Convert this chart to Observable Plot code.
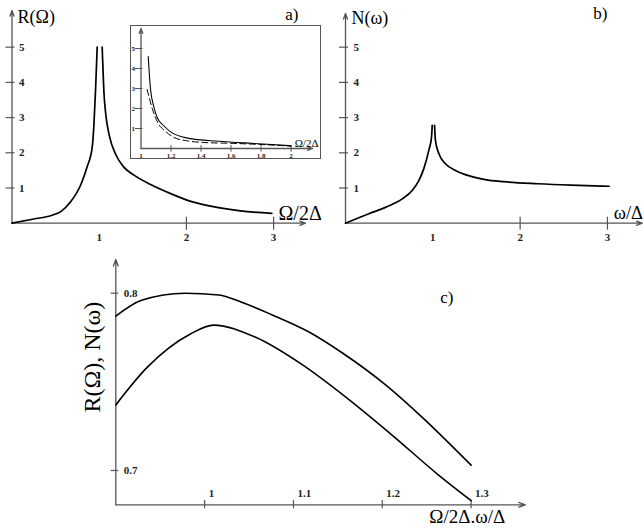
<!DOCTYPE html>
<html><head><meta charset="utf-8">
<script src="https://cdn.jsdelivr.net/npm/d3@7"></script>
<script src="https://cdn.jsdelivr.net/npm/@observablehq/plot@0.6"></script>
<style>
body{margin:0;background:#fff;}
#fig{position:relative;width:644px;height:531px;overflow:hidden;background:#fff;}
#fig svg{position:absolute;}
</style></head><body><div id="fig"></div>
<script>
// ---------- Panel a: R(Ω) ----------
const aLeftX  = [0, 0.25, 0.45, 0.56, 0.67, 0.79, 0.86, 0.92, 0.94, 0.958, 0.977];
const aLeftY  = [0, 0.12, 0.22, 0.33, 0.60, 1.10, 1.59, 2.16, 2.82, 3.77, 5.0];
const aRightX = [1.034, 1.053, 1.075, 1.115, 1.19, 1.28, 1.39, 1.59, 1.82, 2.05, 2.35, 2.62, 2.98];
const aRightY = [5.0, 3.77, 3.1, 2.5, 1.95, 1.6, 1.38, 1.1, 0.84, 0.62, 0.45, 0.35, 0.28];
const aXTicks = [1, 2, 3];
const aXTickMarks = [2, 3];
const aYTicks = [1, 2, 3, 4, 5];
const aXDomain = [0, 3.366];
const aYDomain = [0, 6.04];

// ---------- Inset of panel a ----------
const insetSolidX = [1.048, 1.063, 1.085, 1.108, 1.15, 1.2, 1.31, 1.52, 1.75, 2.0];
const insetSolidY = [4.6, 3.0, 2.1, 1.55, 1.15, 0.82, 0.52, 0.36, 0.25, 0.14];
const insetDashX  = [1.041, 1.075, 1.115, 1.16, 1.22, 1.31, 1.42, 1.6, 1.8, 2.0];
const insetDashY  = [2.95, 2.0, 1.25, 0.88, 0.55, 0.38, 0.3, 0.26, 0.2, 0.12];
const insetXTicks = [1, 1.2, 1.4, 1.6, 1.8, 2];
const insetXTickLabels = ["1", "1.2", "1.4", "1.6", "1.8", "2"];
const insetXTickMarks = [1.2, 1.4, 1.6, 1.8, 2];
const insetYTicks = [1, 2, 3, 4, 5];
const insetXDomain = [1, 2.143];
const insetYDomain = [0, 6.0];

// ---------- Panel b: N(ω) ----------
const bLeftX  = [0, 0.267, 0.458, 0.649, 0.764, 0.84, 0.897, 0.954, 0.985, 0.993];
const bLeftY  = [0, 0.27, 0.45, 0.69, 0.93, 1.21, 1.55, 2.07, 2.44, 2.78];
const bRightX = [1.02, 1.03, 1.07, 1.145, 1.26, 1.41, 1.6, 1.81, 2.2, 2.58, 3.02];
const bRightY = [2.78, 2.35, 1.97, 1.69, 1.5, 1.35, 1.24, 1.18, 1.12, 1.08, 1.05];
const bXTicks = [1, 2, 3];
const bXTickMarks = [2, 3];
const bYTicks = [1, 2, 3, 4, 5];
const bXDomain = [0, 3.398];
const bYDomain = [0, 5.957];

// ---------- Panel c ----------
const cUpperX = [0.9, 0.929, 0.978, 1.016, 1.041, 1.075, 1.118, 1.156, 1.202, 1.245, 1.3];
const cUpperY = [0.787, 0.796, 0.800, 0.799, 0.795, 0.788, 0.778, 0.766, 0.749, 0.730, 0.703];
const cLowerX = [0.9, 0.935, 0.984, 1.010, 1.058, 1.109, 1.160, 1.211, 1.262, 1.3];
const cLowerY = [0.737, 0.758, 0.777, 0.782, 0.775, 0.760, 0.741, 0.720, 0.698, 0.683];
const cXTicks = [1, 1.1, 1.2, 1.3];
const cXTickLabels = ["1", "1.1", "1.2", "1.3"];
const cYTicks = [0.7, 0.8];
const cYTickLabels = ["0.7", "0.8"];
const cXDomain = [0.9, 1.361];
const cYDomain = [0.68065, 0.819];

// ---------- helpers ----------
const rows = (xs, ys, k) => xs.map((x, i) => ({x, y: ys[i], k}));
const SERIF = "Liberation Serif, Times New Roman, serif";
const AX = "#555";
const baseStyle = {background: "transparent", overflow: "visible", fontFamily: SERIF, color: "#111"};

function axesArrows(xd, yd, head) {
  return [
    Plot.arrow([0], {x1: () => xd[0], y1: () => yd[0], x2: () => xd[1], y2: () => yd[0],
      stroke: AX, strokeWidth: 1.3, headLength: head, headAngle: 40}),
    Plot.arrow([0], {x1: () => xd[0], y1: () => yd[0], x2: () => xd[0], y2: () => yd[1],
      stroke: AX, strokeWidth: 1.3, headLength: head, headAngle: 40})
  ];
}

const fig = document.getElementById("fig");
function place(svg, left, top, extra) {
  svg.style.left = left + "px";
  svg.style.top = top + "px";
  if (extra) Object.assign(svg.style, extra);
  fig.appendChild(svg);
}

// ---------- Panel a ----------
const aPlot = Plot.plot({
  width: 330, height: 240,
  marginLeft: 11.5, marginRight: 25, marginTop: 10, marginBottom: 17.3,
  x: {domain: aXDomain}, y: {domain: aYDomain},
  style: baseStyle,
  marks: [
    ...axesArrows(aXDomain, aYDomain, 7),
    Plot.axisY({ticks: aYTicks, tickSize: 9, dx: 3, tickFormat: () => "", label: null, stroke: AX, strokeWidth: 1.2}),
    Plot.axisX({ticks: aXTickMarks, tickSize: 13, dy: -6, tickFormat: () => "", label: null, stroke: AX, strokeWidth: 1.2}),
    Plot.text(aYTicks, {y: d => d, frameAnchor: "left", dx: 7, textAnchor: "start", lineAnchor: "middle",
      fontSize: 11, fontWeight: "bold", fill: "#222"}),
    Plot.text(aXTicks, {x: d => d, frameAnchor: "bottom", dy: 14, lineAnchor: "middle",
      fontSize: 11, fontWeight: "bold", fill: "#222"}),
    Plot.line([...rows(aLeftX, aLeftY, "l"), ...rows(aRightX, aRightY, "r")],
      {x: "x", y: "y", z: "k", stroke: "#000", strokeWidth: 1.7, curve: "monotone-x"}),
    Plot.text(["R(Ω)"], {frameAnchor: "top-left", dx: 5.5, dy: 7, textAnchor: "start", lineAnchor: "middle", fontSize: 18, fill: "#000"}),
    Plot.text(["a)"], {frameAnchor: "top-right", dx: -7, dy: 4, textAnchor: "end", lineAnchor: "middle", fontSize: 17, fill: "#000"}),
    Plot.text(["Ω/2Δ"], {frameAnchor: "bottom-right", dx: -27, dy: -9.4, textAnchor: "start", lineAnchor: "middle", fontSize: 20, fill: "#000"})
  ]
});
place(aPlot, 0, 0);

// ---------- Inset ----------
const insetPlot = Plot.plot({
  width: 191, height: 134,
  marginLeft: 10.5, marginRight: 9, marginTop: 3, marginBottom: 11,
  x: {domain: insetXDomain}, y: {domain: insetYDomain},
  style: {...baseStyle, background: "#fff"},
  marks: [
    ...axesArrows(insetXDomain, insetYDomain, 6),
    Plot.axisY({ticks: insetYTicks, tickSize: 7.5, dx: 2, tickFormat: () => "", label: null, stroke: AX, strokeWidth: 1}),
    Plot.axisX({ticks: insetXTickMarks, tickSize: 6.7, dy: -3, tickFormat: () => "", label: null, stroke: AX, strokeWidth: 1}),
    Plot.text(insetYTicks, {y: d => d, frameAnchor: "left", dx: -6, textAnchor: "end", lineAnchor: "middle",
      fontSize: 7, fontWeight: "bold", fill: "#222"}),
    Plot.text(insetXTicks, {x: d => d, text: (d, i) => insetXTickLabels[i], frameAnchor: "bottom", dy: 7, lineAnchor: "middle",
      fontSize: 7, fontWeight: "bold", fill: "#222"}),
    Plot.line(rows(insetDashX, insetDashY, "d"), {x: "x", y: "y", stroke: "#000", strokeWidth: 1, strokeDasharray: "6,3.5", curve: "monotone-x"}),
    Plot.line(rows(insetSolidX, insetSolidY, "s"), {x: "x", y: "y", stroke: "#000", strokeWidth: 1.1, curve: "monotone-x"}),
    Plot.text(["Ω/2Δ"], {frameAnchor: "bottom-right", dx: 6, dy: -5, textAnchor: "end", lineAnchor: "middle", fontSize: 11, fill: "#000"})
  ]
});
place(insetPlot, 130, 25, {outline: "1.5px solid #555", outlineOffset: "-1.5px"});

// ---------- Panel b ----------
const bPlot = Plot.plot({
  width: 314, height: 240,
  marginLeft: 15, marginRight: 2.3, marginTop: 13, marginBottom: 17.3,
  x: {domain: bXDomain}, y: {domain: bYDomain},
  style: baseStyle,
  marks: [
    ...axesArrows(bXDomain, bYDomain, 7),
    Plot.axisY({ticks: bYTicks, tickSize: 9, dx: 3, tickFormat: () => "", label: null, stroke: AX, strokeWidth: 1.2}),
    Plot.axisX({ticks: bXTickMarks, tickSize: 13, dy: -6, tickFormat: () => "", label: null, stroke: AX, strokeWidth: 1.2}),
    Plot.text(bYTicks, {y: d => d, frameAnchor: "left", dx: 8, textAnchor: "start", lineAnchor: "middle",
      fontSize: 11, fontWeight: "bold", fill: "#222"}),
    Plot.text(bXTicks, {x: d => d, frameAnchor: "bottom", dy: 14, lineAnchor: "middle",
      fontSize: 11, fontWeight: "bold", fill: "#222"}),
    Plot.line([...rows(bLeftX, bLeftY, "l"), ...rows(bRightX, bRightY, "r")],
      {x: "x", y: "y", z: "k", stroke: "#000", strokeWidth: 1.7, curve: "monotone-x"}),
    Plot.text(["N(ω)"], {frameAnchor: "top-left", dx: 6, dy: 4.5, textAnchor: "start", lineAnchor: "middle", fontSize: 18, fill: "#000"}),
    Plot.text(["b)"], {frameAnchor: "top-right", dx: -34.7, dy: 0.5, textAnchor: "end", lineAnchor: "middle", fontSize: 17, fill: "#000"}),
    Plot.text(["ω/Δ"], {frameAnchor: "bottom-right", dx: 0.8, dy: -9.7, textAnchor: "end", lineAnchor: "middle", fontSize: 18.5, fill: "#000"})
  ]
});
place(bPlot, 330, 0);

// ---------- Panel c ----------
const cPlot = Plot.plot({
  width: 644, height: 291,
  marginLeft: 115.3, marginRight: 119.2, marginTop: 19, marginBottom: 26.7,
  x: {domain: cXDomain}, y: {domain: cYDomain},
  style: baseStyle,
  marks: [
    ...axesArrows(cXDomain, cYDomain, 8),
    Plot.axisY({ticks: cYTicks, tickSize: 7.6, dx: 3, tickFormat: () => "", label: null, stroke: AX, strokeWidth: 1.2}),
    Plot.axisX({ticks: cXTicks, tickSize: 8.3, dy: -4.3, tickFormat: () => "", label: null, stroke: AX, strokeWidth: 1.2}),
    Plot.text(cYTicks, {y: d => d, text: (d, i) => cYTickLabels[i], frameAnchor: "left", dx: 8, textAnchor: "start", lineAnchor: "middle",
      fontSize: 11, fontWeight: "bold", fill: "#222"}),
    Plot.text(cXTicks, {x: d => d, text: (d, i) => cXTickLabels[i], frameAnchor: "bottom", dx: 4, dy: -11.3, textAnchor: "start", lineAnchor: "middle",
      fontSize: 11, fontWeight: "bold", fill: "#222"}),
    Plot.line([...rows(cUpperX, cUpperY, "u"), ...rows(cLowerX, cLowerY, "l")],
      {x: "x", y: "y", z: "k", stroke: "#000", strokeWidth: 1.6, curve: "monotone-x"}),
    Plot.text(["c)"], {frameAnchor: "top-right", dx: -71.8, dy: 38, textAnchor: "end", lineAnchor: "middle", fontSize: 17, fill: "#000"}),
    Plot.text(["Ω/2Δ.ω/Δ"], {frameAnchor: "bottom-right", dx: -96, dy: 12.4, textAnchor: "start", lineAnchor: "middle", fontSize: 19, fill: "#000"}),
    Plot.text(["R(Ω), N(ω)"], {frameAnchor: "left", dx: -23.3, dy: -25, rotate: -90, textAnchor: "middle", lineAnchor: "middle", fontSize: 24, fill: "#000"})
  ]
});
place(cPlot, 0, 240);
</script>
</body></html>
